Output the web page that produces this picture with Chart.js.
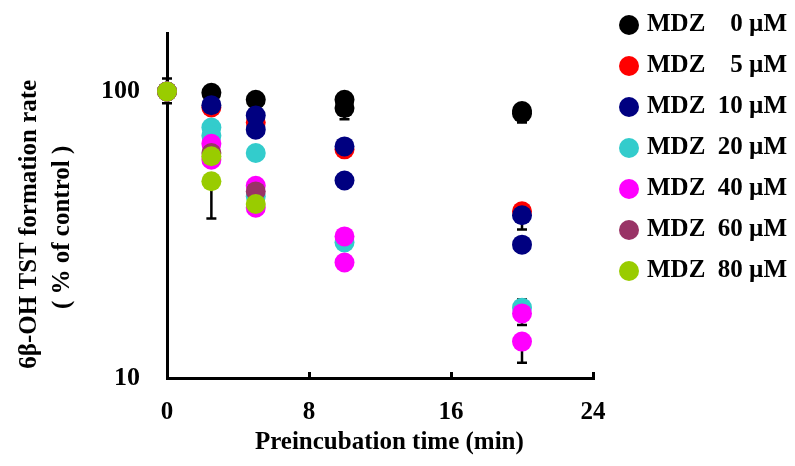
<!DOCTYPE html>
<html>
<head>
<meta charset="utf-8">
<script src="https://cdn.jsdelivr.net/npm/chart.js@4.4.1/dist/chart.umd.min.js"></script>
<style>
  html, body { margin: 0; padding: 0; background: #fff; }
  canvas { display: block; }
</style>
</head>
<body>
<canvas id="chart" width="795" height="466"></canvas>
<script>
// preincubation times (min)
const times = [0, 2.5, 5, 10, 20];
const doses = ['0', '5', '10', '20', '40', '60', '80'];
const colors = ['#000000', '#ff0000', '#000080', '#33cccc', '#ff00ff', '#993366', '#99cc00'];

// % of control, two runs per MDZ concentration (null = not plotted)
const mdz0A  = [100, 98.9, 93.6, 93.6, 85.5];
const mdz0B  = [null, null, null, 87.5, 84];
const mdz5A  = [100, 88, 78, 62.8, 38.2];
const mdz5B  = [null, null, null, null, null];
const mdz10A = [100, 89.6, 82.4, 64.3, 37];
const mdz10B = [null, null, 73.6, 48.9, 29.2];
const mdz20A = [100, 74.9, 61, 29.7, 17.6];
const mdz20B = [null, 70, 43, null, null];
const mdz40A = [100, 65.7, 46.9, 31.2, 16.8];
const mdz40B = [null, 57.8, 39.3, 25.3, 13.4];
const mdz60A = [100, 61, 44.8, null, null];
const mdz60B = [null, null, null, null, null];
const mdz80A = [100, 59.4, 40.5, null, null];
const mdz80B = [null, 48.6, null, null, null];

const runsA = [mdz0A, mdz5A, mdz10A, mdz20A, mdz40A, mdz60A, mdz80A];
const runsB = [mdz0B, mdz5B, mdz10B, mdz20B, mdz40B, mdz60B, mdz80B];

// error bars (SD) that show in the figure
const errTimes = [0, 2.5, 10, 20, 20, 20, 20, 20];
const errLow   = [91, 36, 80, 78, 33, 16.4, 15.3, 11.3];
const errHigh  = [111, 48.6, 87.5, 84, 37, 18.8, 16.8, 13.4];

const xTicks = [0, 8, 16, 24];
const yTicks = [10, 100];

Chart.defaults.font.family = '"Liberation Serif", "Times New Roman", serif';
Chart.defaults.font.weight = 'bold';
Chart.defaults.font.size = 25;
Chart.defaults.color = '#000';

function points(run) {
  const out = [];
  run.forEach((v, i) => { if (v !== null) out.push({x: times[i], y: v}); });
  return out;
}

const datasets = doses.map((d, i) => ({
  label: 'MDZ  ' + (d.length < 2 ? '\u2007' : '') + d + ' \u00b5M',
  data: points(runsA[i]).concat(points(runsB[i])),
  backgroundColor: colors[i],
  borderColor: colors[i],
  pointRadius: 10,
  pointHoverRadius: 10,
  pointBorderWidth: 0,
  clip: false,
  order: doses.length - i
}));

const errorBars = {
  id: 'errorBars',
  beforeDatasetsDraw(chart) {
    const {ctx, scales: {x, y}} = chart;
    ctx.save();
    ctx.strokeStyle = '#000';
    ctx.lineWidth = 2.5;
    errTimes.forEach((t, i) => {
      const px = x.getPixelForValue(t);
      const lo = y.getPixelForValue(errLow[i]);
      const hi = y.getPixelForValue(errHigh[i]);
      ctx.beginPath();
      ctx.moveTo(px, lo); ctx.lineTo(px, hi);
      ctx.moveTo(px - 5, lo); ctx.lineTo(px + 5, lo);
      ctx.moveTo(px - 5, hi); ctx.lineTo(px + 5, hi);
      ctx.stroke();
    });
    ctx.restore();
  }
};

// legend beside the plot, one row per concentration
const sideLegend = {
  id: 'sideLegend',
  afterDraw(chart) {
    const ctx = chart.ctx;
    const left = chart.chartArea.right + 36;
    ctx.save();
    ctx.font = 'bold 25px "Liberation Serif"';
    ctx.textBaseline = 'middle';
    ctx.textAlign = 'left';
    chart.data.datasets.forEach((ds, i) => {
      const cy = 25 + i * 41;
      ctx.fillStyle = ds.backgroundColor;
      ctx.beginPath();
      ctx.arc(left, cy, 10, 0, Math.PI * 2);
      ctx.fill();
      ctx.fillStyle = '#000';
      ctx.fillText(ds.label, left + 18, cy);
    });
    ctx.restore();
  }
};

new Chart(document.getElementById('chart'), {
  type: 'scatter',
  data: { datasets: datasets },
  plugins: [errorBars, sideLegend],
  options: {
    responsive: false,
    animation: false,
    layout: { padding: { top: 33, right: 202, bottom: 0, left: 0 } },
    plugins: {
      legend: { display: false },
      tooltip: { enabled: false }
    },
    scales: {
      x: {
        type: 'linear',
        min: 0,
        max: 24,
        afterBuildTicks: s => { s.ticks = xTicks.map(v => ({value: v})); },
        afterFit: s => { s.height = 88; },
        ticks: { padding: 26, callback: v => String(v) },
        grid: { drawOnChartArea: false, tickLength: -6, tickWidth: 3, tickColor: '#000' },
        border: { color: '#000', width: 3 },
        title: {
          display: true,
          text: '   Preincubation time (min)',
          font: { size: 25, weight: 'bold', lineHeight: 1.2 },
          padding: { top: 0, bottom: 8 }
        }
      },
      y: {
        type: 'logarithmic',
        min: 10,
        max: 160,
        afterBuildTicks: s => { s.ticks = yTicks.map(v => ({value: v})); },
        afterFit: s => { s.width = 167; s.paddingTop = 0; s.paddingBottom = 0; },
        ticks: { padding: 33, font: { size: 26 }, callback: v => String(v) },
        grid: { drawOnChartArea: false, tickLength: -6, tickWidth: 3, tickColor: '#000' },
        border: { color: '#000', width: 3 },
        title: {
          display: true,
          text: ['6\u03b2-OH TST formation rate      ', '( % of control )       '],
          font: { size: 25, weight: 'bold', lineHeight: 1.32 },
          padding: { top: 13.5, bottom: 0 }
        }
      }
    }
  }
});
</script>
</body>
</html>
